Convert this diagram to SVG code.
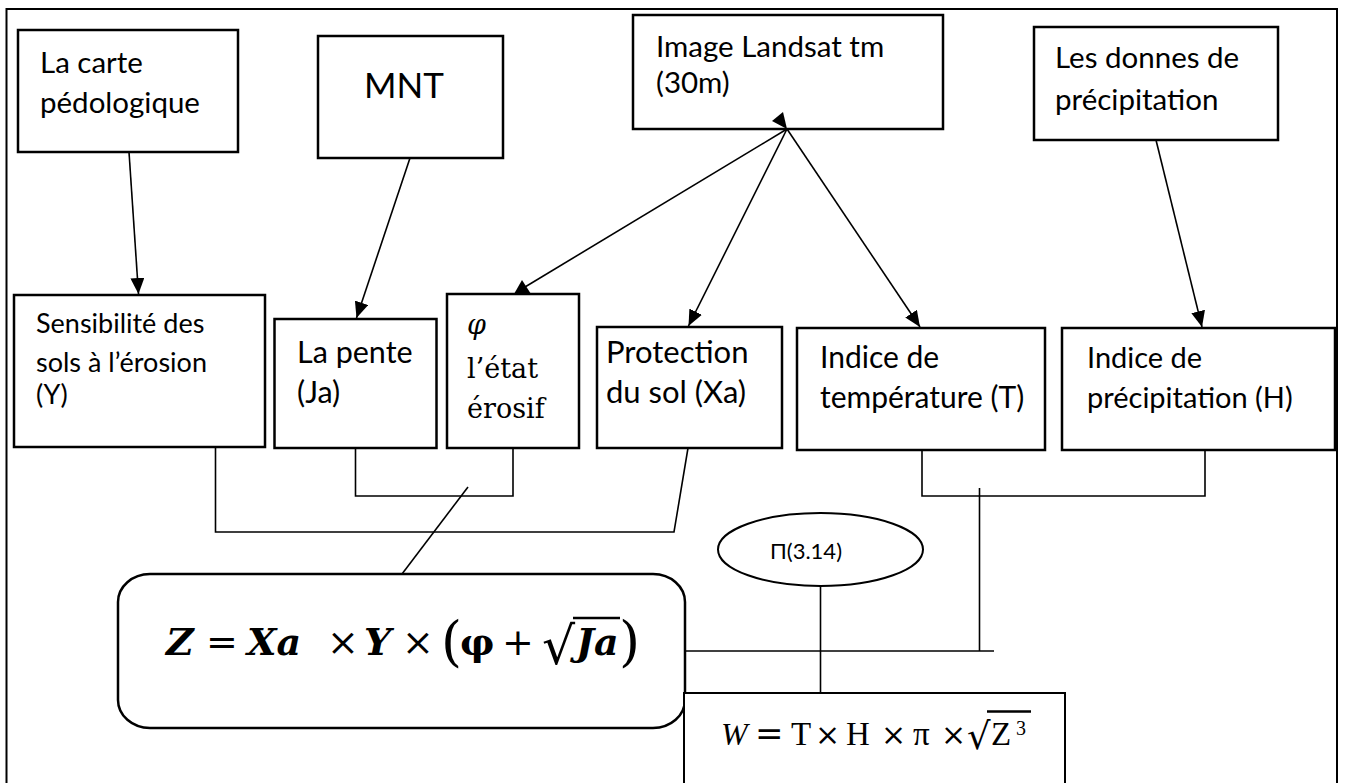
<svg xmlns="http://www.w3.org/2000/svg" width="1345" height="783" viewBox="0 0 1345 783">
<style>
.box{fill:#fff;stroke:#000;stroke-width:2.5}
.thin{fill:none;stroke:#000;stroke-width:1.6}
.lbl{font-family:Lato,"Liberation Sans",sans-serif;fill:#000}
.ser{font-family:"DejaVu Serif","Liberation Serif",serif;fill:#000}
.tms{font-family:"Liberation Serif",serif;fill:#000}
.bi{font-weight:bold;font-style:italic}
</style>
<defs>
<marker id="ah" markerUnits="userSpaceOnUse" markerWidth="16" markerHeight="14" refX="16" refY="7" orient="auto">
<path d="M0,0 L16,7 L0,14 z" fill="#000"/>
</marker>
</defs>
<rect width="1345" height="783" fill="#fff"/>
<path d="M6.5,800 V9 H1337 V800" fill="none" stroke="#000" stroke-width="2"/>

<g id="n-carte">
<rect class="box" x="18" y="30" width="220" height="122"/>
<text class="lbl" font-size="29.5" x="40" y="73">La carte</text>
<text class="lbl" font-size="29.5" x="40" y="113">pédologique</text>
</g>

<g id="n-mnt">
<rect class="box" x="318" y="36" width="185" height="122"/>
<text class="lbl" font-size="35" x="364" y="98">MNT</text>
</g>

<g id="n-landsat">
<rect class="box" x="633" y="15" width="310" height="114"/>
<text class="lbl" font-size="29.5" x="656" y="57">Image Landsat tm</text>
<text class="lbl" font-size="29.5" x="656" y="93">(30m)</text>
</g>

<g id="n-donnes">
<rect class="box" x="1034" y="27" width="244" height="113"/>
<text class="lbl" font-size="29.5" x="1055" y="68">Les donnes de</text>
<text class="lbl" font-size="29.5" x="1055" y="110">précipitation</text>
</g>

<g id="n-sensibilite">
<rect class="box" x="14" y="295" width="251" height="152"/>
<text class="lbl" font-size="27" x="36" y="333">Sensibilité des</text>
<text class="lbl" font-size="27" x="36" y="372">sols à l’érosion</text>
<text class="lbl" font-size="27" x="36" y="404">(Y)</text>
</g>

<g id="n-pente">
<rect class="box" x="274.5" y="319" width="162" height="129"/>
<text class="lbl" font-size="30.5" x="297" y="363">La pente</text>
<text class="lbl" font-size="30.5" x="297" y="403">(Ja)</text>
</g>

<g id="n-phi">
<rect class="box" x="447" y="294" width="132" height="154"/>
<text class="ser" font-size="27" font-style="italic" x="467" y="334">φ</text>
<text class="ser" font-size="27" x="467" y="378">l’état</text>
<text class="ser" font-size="27" x="467" y="418">érosif</text>
</g>

<g id="n-protection">
<rect class="box" x="597" y="327" width="185" height="121"/>
<text class="lbl" font-size="31" x="606" y="363">Protection</text>
<text class="lbl" font-size="31" x="606" y="403">du sol (Xa)</text>
</g>

<g id="n-temperature">
<rect class="box" x="797" y="328" width="248" height="122"/>
<text class="lbl" font-size="30" x="820" y="368">Indice de</text>
<text class="lbl" font-size="30" x="820" y="408">température (T)</text>
</g>

<g id="n-precipitation">
<rect class="box" x="1062" y="328" width="273" height="122"/>
<text class="lbl" font-size="29" x="1087" y="368">Indice de</text>
<text class="lbl" font-size="29" x="1087" y="408">précipitation (H)</text>
</g>

<g id="n-z">
<rect class="box" x="118" y="574" width="567" height="154" rx="32" ry="28"/>
<text class="ser" font-size="38" y="655">
<tspan class="bi" x="166">Z</tspan><tspan x="206">=</tspan><tspan class="bi" x="247">Xa</tspan><tspan x="327">×</tspan><tspan class="bi" x="364">Y</tspan><tspan x="402">×</tspan><tspan x="460" font-weight="bold">φ</tspan><tspan x="502">+</tspan><tspan class="bi" x="576">Ja</tspan>
</text>
<text class="ser" font-size="54" x="441" y="660">(</text>
<text class="ser" font-size="54" x="619" y="660">)</text>
<text class="ser" font-size="52" x="542" y="664">√</text>
<line x1="573" y1="618" x2="620" y2="618" stroke="#000" stroke-width="2.5"/>
</g>

<g id="n-pi">
<ellipse cx="820.5" cy="549.5" rx="102.5" ry="36.5" fill="#fff" stroke="#000" stroke-width="2"/>
<text class="lbl" font-size="22" x="806" y="559" text-anchor="middle">Π(3.14)</text>
</g>

<g id="n-w">
<rect x="684" y="693" width="381" height="120" fill="#fff" stroke="#000" stroke-width="2"/>
<text class="tms" font-size="32" font-style="italic" x="721" y="745">W</text>
<text class="ser" font-size="34" x="755" y="745">=</text>
<text class="tms" font-size="33" y="745">
<tspan x="791">T</tspan><tspan x="846">H</tspan><tspan x="913">π</tspan><tspan x="991">Z</tspan>
</text>
<text class="ser" font-size="30" y="745">
<tspan x="815">×</tspan><tspan x="881">×</tspan><tspan x="941">×</tspan>
</text>
<text class="tms" font-size="20" x="1016" y="735">3</text>
<text class="ser" font-size="37" x="967" y="749">√</text>
<line x1="987" y1="711.5" x2="1031" y2="711.5" stroke="#000" stroke-width="2.5"/>
</g>

<g id="connectors" class="thin">
<line x1="129" y1="152" x2="138.5" y2="294" marker-end="url(#ah)"/>
<line x1="410" y1="158" x2="356.5" y2="318" marker-end="url(#ah)"/>
<line x1="787" y1="129" x2="525" y2="287"/>
<polygon points="514,294 531,294 522,280" fill="#000" stroke="none"/>
<polygon points="772,121 783,112 787,129" fill="#000" stroke="none"/>
<line x1="787" y1="129" x2="688.5" y2="326" marker-end="url(#ah)"/>
<line x1="787" y1="129" x2="920" y2="327" marker-end="url(#ah)"/>
<line x1="1156" y1="140" x2="1202" y2="327" marker-end="url(#ah)"/>
<polyline points="215.5,447 215.5,532 674,532 688,448"/>
<polyline points="355.5,448 355.5,496 513,496 513,448"/>
<line x1="468" y1="487" x2="402" y2="574"/>
<polyline points="922,450 922,496 1205,496 1205,450"/>
<line x1="979.5" y1="488" x2="979.5" y2="651"/>
<line x1="685" y1="651" x2="994" y2="651"/>
<line x1="820.5" y1="586" x2="820.5" y2="693"/>
</g>
</svg>
